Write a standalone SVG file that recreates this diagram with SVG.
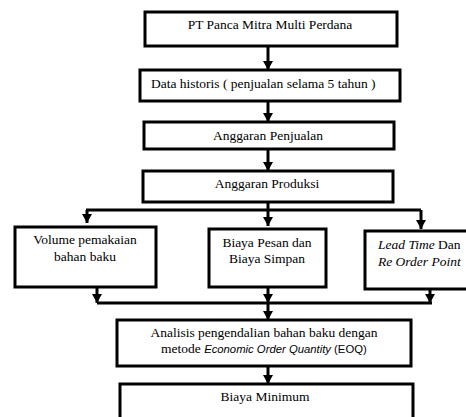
<svg xmlns="http://www.w3.org/2000/svg" width="466" height="417" viewBox="0 0 466 417">
<defs>
<style>
.box{fill:#fff;stroke:#000;stroke-width:3}
.c{fill:none;stroke:#000;stroke-width:3}
text{font-family:"Liberation Serif","Times New Roman",serif;font-size:13.5px;fill:#000}
.m{text-anchor:middle}
.i{font-style:italic}
.s{font-family:"Liberation Sans",Arial,sans-serif;font-size:11.3px}
</style>
<marker id="ah" markerUnits="userSpaceOnUse" markerWidth="10" markerHeight="10" viewBox="0 0 10 10" refX="10" refY="5" orient="auto">
<path d="M1,0 L10,5 L1,10 Z" fill="#000"/>
</marker>
</defs>
<rect width="466" height="417" fill="#fff"/>
<g id="connectors">
<line class="c" x1="268" y1="46" x2="268" y2="70" marker-end="url(#ah)"/>
<line class="c" x1="268" y1="101" x2="268" y2="122" marker-end="url(#ah)"/>
<line class="c" x1="268" y1="149" x2="268" y2="171" marker-end="url(#ah)"/>
<line class="c" x1="268" y1="202" x2="268" y2="226" marker-end="url(#ah)"/>
<line class="c" x1="86" y1="210" x2="421" y2="210"/>
<line class="c" x1="87" y1="210" x2="87" y2="223" marker-end="url(#ah)"/>
<line class="c" x1="421" y1="210" x2="421" y2="229" marker-end="url(#ah)"/>
<line class="c" x1="97" y1="287" x2="97" y2="303" marker-end="url(#ah)"/>
<line class="c" x1="268" y1="287" x2="268" y2="303" marker-end="url(#ah)"/>
<line class="c" x1="430" y1="289" x2="430" y2="303" marker-end="url(#ah)"/>
<line class="c" x1="97" y1="303" x2="432" y2="303"/>
<line class="c" x1="268" y1="303" x2="268" y2="320" marker-end="url(#ah)"/>
<line class="c" x1="268" y1="366" x2="268" y2="384" marker-end="url(#ah)"/>
</g>
<g id="n1">
<rect class="box" x="145" y="12" width="252" height="34"/>
<text class="m" x="270" y="29">PT Panca Mitra Multi Perdana</text>
</g>
<g id="n2">
<rect class="box" x="140" y="70" width="260" height="31"/>
<text x="151" y="88">Data historis ( penjualan selama 5 tahun )</text>
</g>
<g id="n3">
<rect class="box" x="144" y="122" width="250" height="27"/>
<text class="m" x="268" y="140">Anggaran Penjualan</text>
</g>
<g id="n4">
<rect class="box" x="143" y="171" width="250" height="31"/>
<text class="m" x="267" y="188">Anggaran Produksi</text>
</g>
<g id="n5">
<rect class="box" x="15" y="227" width="141" height="60"/>
<text class="m" x="85" y="244">Volume pemakaian</text>
<text class="m" x="85" y="261">bahan baku</text>
</g>
<g id="n6">
<rect class="box" x="209" y="229" width="117" height="58"/>
<text class="m" x="267" y="247">Biaya Pesan dan</text>
<text class="m" x="267" y="263">Biaya Simpan</text>
</g>
<g id="n7">
<rect class="box" x="365" y="231" width="110" height="58"/>
<text x="378" y="249"><tspan class="i">Lead Time</tspan> Dan</text>
<text class="i" x="378" y="266">Re Order Point</text>
</g>
<g id="n8">
<rect class="box" x="117" y="320" width="294" height="46"/>
<text class="m" x="264" y="337">Analisis pengendalian bahan baku dengan</text>
<text x="161" y="353">metode <tspan class="s i">Economic Order Quantity</tspan><tspan class="s"> (EOQ)</tspan></text>
</g>
<g id="n9">
<rect class="box" x="120" y="384" width="293" height="40"/>
<text class="m" x="265" y="401">Biaya Minimum</text>
</g>
</svg>
